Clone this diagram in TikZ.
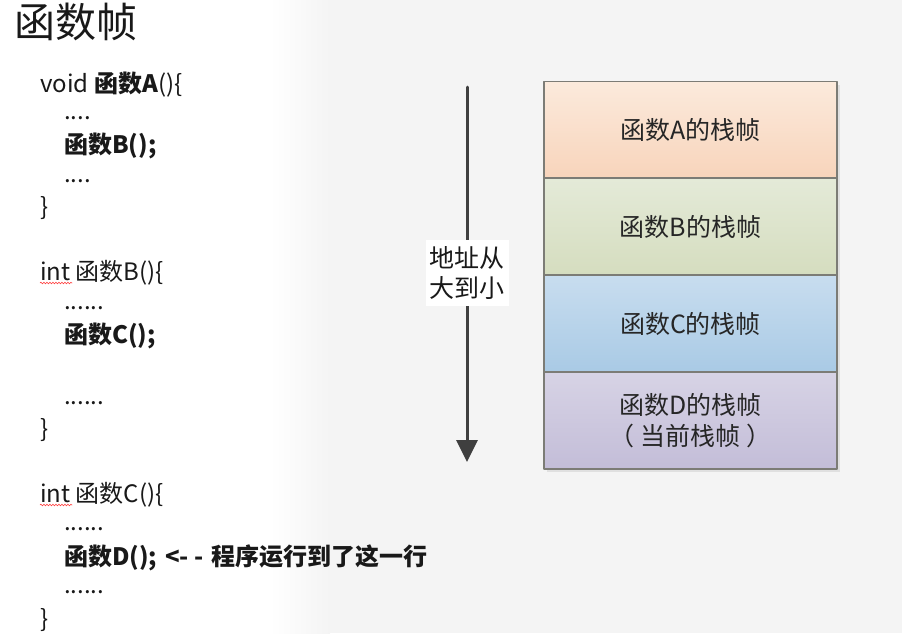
\documentclass[tikz,border=0pt]{standalone}
\usepackage{fontspec}
\setmainfont{Noto Sans CJK SC}
\usetikzlibrary{arrows.meta,decorations.pathmorphing}
\definecolor{bgray}{HTML}{F4F4F4}
\definecolor{frameline}{HTML}{7C7C76}
\definecolor{arrowgray}{HTML}{3F3F3F}
\definecolor{fA1}{HTML}{FBEADC}
\definecolor{fA2}{HTML}{F8D4BB}
\definecolor{fB1}{HTML}{E4EAD8}
\definecolor{fB2}{HTML}{D5DDBF}
\definecolor{fC1}{HTML}{C8DDEF}
\definecolor{fC2}{HTML}{A9CAE5}
\definecolor{fD1}{HTML}{D7D3E5}
\definecolor{fD2}{HTML}{C3BDD8}
\begin{document}
\begin{tikzpicture}[x=1pt, y=-1pt, line join=round, line cap=round,
  >={Triangle[width=21pt,length=22pt]},
  frame/.style={draw=frameline, line width=1.3pt, minimum width=293pt, minimum height=97pt,
    inner sep=0pt, align=center, text=black!85, font=\fontsize{25}{31}\selectfont},
  codeline/.style={anchor=base west, inner sep=0pt, text=black!90, font=\fontsize{24}{28}\selectfont},
  spell/.style={red!75, line width=0.6pt, decorate, decoration={snake, amplitude=0.8pt, segment length=3pt}}]
		\useasboundingbox (0,0) rectangle (902,633);
		\fill[white] (0,0) rectangle (902,633);
		\shade[left color=white, right color=bgray] (270,0) rectangle (330,633);
		\fill[bgray] (330,0) rectangle (902,633);
		% title
		\node[anchor=base west, inner sep=0pt, text=black!90, font=\fontsize{41}{46}\selectfont] (title) at (14,37) {函数帧};
		% code
		\foreach \y/\x/\t [count=\i] in {
			92/40/{void \textbf{函数A}()\{},
			119/64/{....},
			153/64/{\textbf{函数B();}},
			182/64/{....},
			215/40/{\}},
			280/40/{int 函数B()\{},
			309/64/{......},
			343/64/{\textbf{函数C();}},
			404/64/{......},
			437/40/{\}},
			502/40/{int 函数C()\{},
			530/64/{......},
			565/64/{\textbf{函数D();\hspace{8pt}<- -\hspace{8pt}程序运行到了这一行}},
			593/64/{......},
			627/40/{\}}}
		\node[codeline] (line\i) at (\x,\y) {\t};
		\draw[spell] ([yshift=-3pt]line6.base west) -- ++(32,0);
		\draw[spell] ([yshift=-3pt]line11.base west) -- ++(32,0);
		% stack frames
		\fill[black!12] (547,85) rectangle (840,472);
		\foreach \n/\y/\ct/\cb/\t in {A/130/fA1/fA2/{函数A的栈帧}, B/226.5/fB1/fB2/{函数B的栈帧},
			C/323.5/fC1/fC2/{函数C的栈帧}, D/420.5/fD1/fD2/{函数D的栈帧\\（\hspace{6pt}当前栈帧\hspace{6pt}）}}
		\node[frame, top color=\ct, bottom color=\cb] (frame\n) at (690.5,\y) {\t};
		% address arrow
		\path (467,87) coordinate (atop) (467,462) coordinate (abot);
		\draw[->, line width=3pt, draw=arrowgray, fill=arrowgray] (atop) -- (abot);
		\node[fill=white, inner xsep=4pt, inner ysep=6pt, align=center, text=black!90,
			font=\fontsize{25}{30}\selectfont] (addr) at (467,273) {地址从\\大到小};
\end{tikzpicture}
\end{document}
